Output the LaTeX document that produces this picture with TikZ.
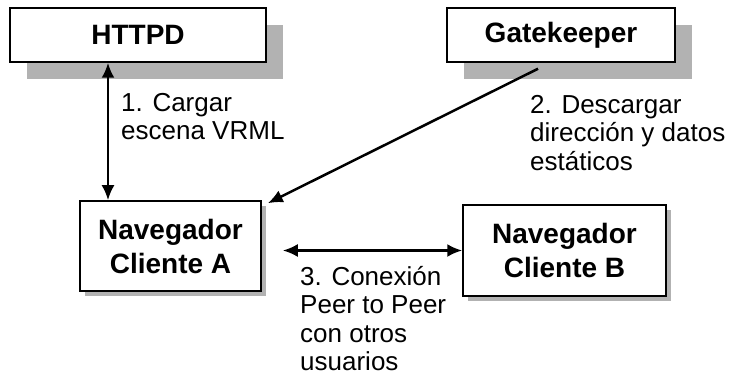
\documentclass[tikz,border=0pt]{standalone}
\usepackage{fontspec}
\setmainfont{Liberation Sans}
\usetikzlibrary{arrows.meta,shadows}
\tikzset{
  bigbox/.style={draw, line width=1.5pt, fill=white, font=\fontsize{28}{32}\selectfont\bfseries,
    drop shadow={shadow xshift=17pt, shadow yshift=-17pt, fill=black!30, opacity=1}},
  navbox/.style={draw, line width=1.5pt, fill=white, align=center, font=\fontsize{28}{34}\selectfont\bfseries,
    drop shadow={shadow xshift=5pt, shadow yshift=-5pt, fill=black!30, opacity=1}},
  lbl/.style={anchor=north west, align=left, inner sep=0pt, font=\fontsize{26}{28.5}\selectfont},
  conn/.style={line width=2.5pt, -{Latex[length=15pt,width=13pt]}},
  dconn/.style={line width=2.5pt, {Latex[length=15pt,width=13pt]}-{Latex[length=15pt,width=13pt]}}
}
\begin{document}
\begin{tikzpicture}[x=1pt,y=-1pt]
  \useasboundingbox (0,0) rectangle (744,382);
  %% servers
  \node[bigbox, minimum width=256pt, minimum height=54pt] (httpd) at (138,35) {HTTPD};
  \node[bigbox, minimum width=228pt, minimum height=54pt] (gate) at (561,35) {Gatekeeper};
  %% clients
  \node[navbox, minimum width=181pt, minimum height=90pt] (nava) at (170.5,246) {Navegador\\Cliente A};
  \node[navbox, minimum width=203pt, minimum height=91pt] (navb) at (564.5,250.5) {Navegador\\Cliente B};
  %% 1. load scene
  \draw[dconn] ([xshift=-30pt]httpd.south) -- ([xshift=-30pt]httpd.south |- nava.north);
  \node[lbl] (l1) at (121,93) {1. Cargar\\escena VRML};
  %% 2. download address
  \coordinate (g2) at ([xshift=-23pt,yshift=-6pt]gate.south);
  \coordinate (a2) at ([xshift=6pt,yshift=-3pt]nava.north east);
  \draw[conn] (g2) -- (a2);
  \node[lbl] (l2) at (530,95) {2. Descargar\\direcci\'on y datos\\est\'aticos};
  %% 3. peer to peer
  \coordinate (c3) at ([xshift=21pt]nava.east);
  \draw[dconn] (c3 |- navb.west) -- (navb.west);
  \node[lbl] (l3) at (300,266) {3. Conexi\'on\\Peer to Peer\\con otros\\usuarios};
\end{tikzpicture}
\end{document}
